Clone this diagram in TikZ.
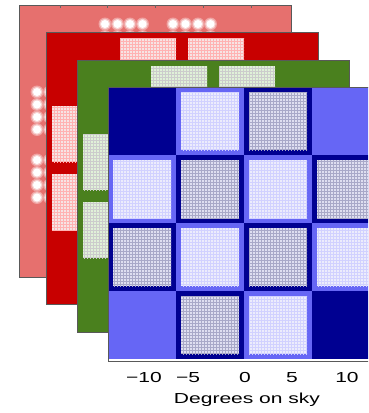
\documentclass[tikz,border=0pt]{standalone}
\usepackage{fontspec}
\newfontfamily\axisfont[FakeStretch=1.45]{Liberation Sans}
\definecolor{skypink}{RGB}{230,112,110}
\definecolor{skyred}{RGB}{200,0,0}
\definecolor{skygreen}{RGB}{74,128,30}
\definecolor{skyblue}{RGB}{102,102,245}
\definecolor{skynavy}{RGB}{0,0,145}
\definecolor{redcell}{RGB}{246,228,228}
\definecolor{greencell}{RGB}{224,241,216}
\definecolor{lightcell}{RGB}{236,236,252}
\definecolor{graycell}{RGB}{222,222,240}
\definecolor{graygrid}{RGB}{168,168,200}
\usetikzlibrary{patterns}
% cells of a 4x4 panel without its corners
\newcommand\innercells{1/0,2/0,0/1,1/1,2/1,3/1,0/2,1/2,2/2,3/2,1/3,2/3}

\begin{document}
\begin{tikzpicture}[x=1pt, y=-1pt,
    panel/.style={draw=black!65, line width=0.6pt},
    ticklabel/.style={anchor=base, font=\axisfont\fontsize{14.5}{16}\selectfont}]
  \useasboundingbox (0,0) rectangle (368,413);
  \clip (0,0) rectangle (368,413);
  % back panel: pink with dots
  \filldraw[panel, fill=skypink] (19,5) rectangle ++(272,272);
  \foreach \x in {60,107,155,203,251}
    \draw[black!60] (\x,5) -- ++(0,3);
  \foreach \rad/\shade in {6.5/35, 5.3/70, 4/100}
    \foreach \c/\r in \innercells
      \foreach \a in {18,30.5,43,55.5}
        \foreach \b in {19,31.5,44,56.5}
          \fill[white!\shade!skypink] (19+68*\c+\a, 5+68*\r+\b) circle (\rad);
  % red panel
  \filldraw[panel, fill=skyred] (46,32) rectangle ++(272,272);
  \foreach \c/\r in \innercells {
    \fill[redcell] (52+68*\c, 38+68*\r) rectangle ++(56,56);
    \fill[pattern=grid, pattern color=red!30] (52+68*\c, 38+68*\r) rectangle ++(56,56);
  }
  % green panel
  \filldraw[panel, fill=skygreen] (77,60) rectangle ++(272,272);
  \foreach \c/\r in \innercells {
    \fill[greencell] (83+68*\c, 66+68*\r) rectangle ++(56,56);
    \fill[pattern=grid, pattern color=black!20] (83+68*\c, 66+68*\r) rectangle ++(56,56);
  }
  % front panel: blue
  \foreach \t [count=\k from 0] in {0,2,3,1, 2,3,2,3, 3,2,3,2, 1,3,2,0} {
    \pgfmathtruncatemacro\c{mod(\k,4)}
    \pgfmathtruncatemacro\r{\k/4}
    \ifcase\t
      \fill[skynavy] (108+68*\c, 87+68*\r) rectangle ++(68,68);
    \or
      \fill[skyblue] (108+68*\c, 87+68*\r) rectangle ++(68,68);
    \or
      \fill[skyblue] (108+68*\c, 87+68*\r) rectangle ++(68,68);
      \fill[lightcell] (113+68*\c, 92+68*\r) rectangle ++(58,58);
      \fill[pattern=grid, pattern color=blue!18] (113+68*\c, 92+68*\r) rectangle ++(58,58);
    \or
      \fill[skynavy] (108+68*\c, 87+68*\r) rectangle ++(68,68);
      \fill[graycell] (113+68*\c, 92+68*\r) rectangle ++(58,58);
      \fill[pattern=grid, pattern color=graygrid] (113+68*\c, 92+68*\r) rectangle ++(58,58);
    \fi
  }
  \draw[panel] (108,87) rectangle ++(272,274);
  % axis labels
  \node[ticklabel] (tm10) at (144,382) {−10};
  \node[ticklabel] (tm5) at (188,382) {−5};
  \node[ticklabel] (t0) at (245,382) {0};
  \node[ticklabel] (t5) at (292,382) {5};
  \node[ticklabel] (t10) at (347,382) {10};
  \node[ticklabel] (xlabel) at (247,403) {Degrees on sky};
\end{tikzpicture}
\end{document}
